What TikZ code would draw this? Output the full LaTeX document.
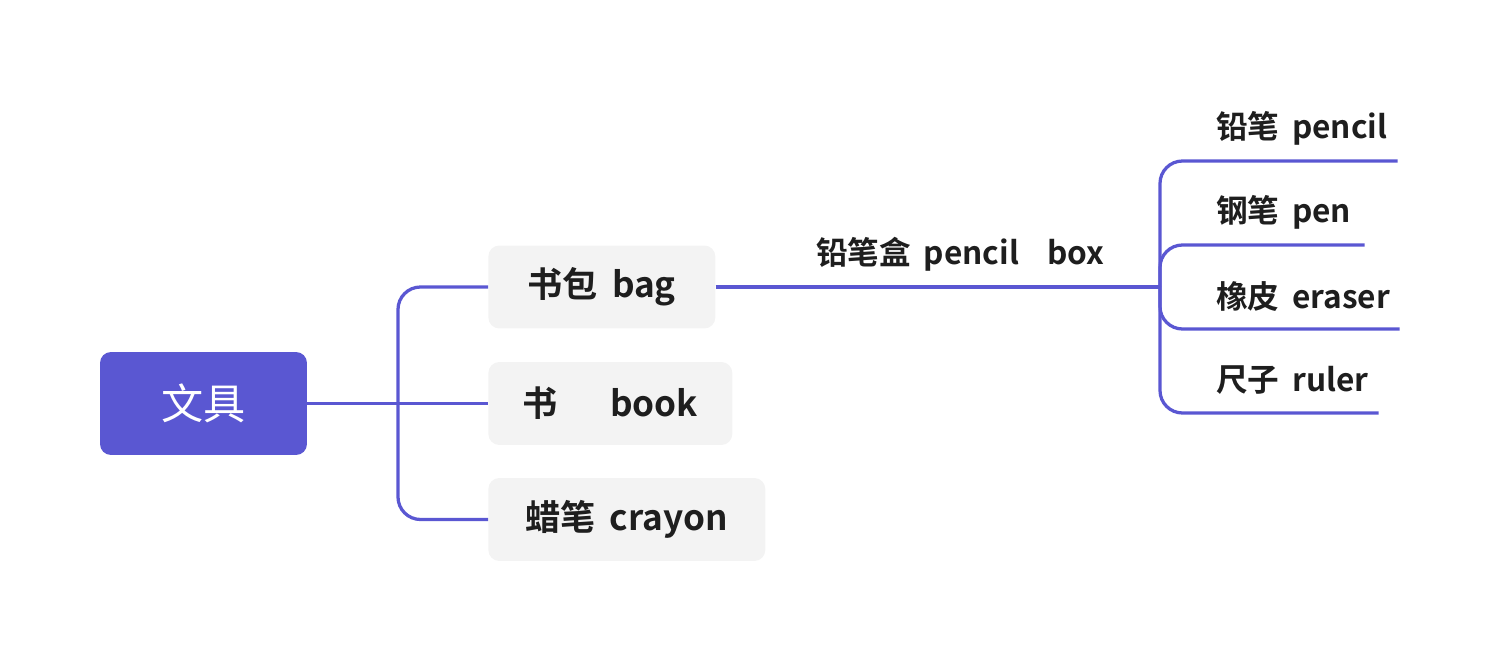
\documentclass[tikz,border=0pt]{standalone}
\usepackage{fontspec}
\usepackage{xcolor}
\newfontfamily\cjk{Noto Sans CJK SC}[BoldFont={Noto Sans CJK SC Bold}]
\usetikzlibrary{positioning}
\definecolor{mapblue}{RGB}{90,87,210}
\definecolor{topicgray}{RGB}{243,243,243}
\definecolor{inkgray}{RGB}{30,30,30}

\begin{document}
\begin{tikzpicture}[x=0.02cm, y=-0.02cm,
	root/.style={fill=mapblue, text=white, rounded corners=0.22cm, minimum width=4.14cm, minimum height=2.06cm, inner sep=0pt, font=\cjk\fontsize{24}{29}\selectfont},
	topic/.style={fill=topicgray, text=inkgray, rounded corners=0.22cm, minimum height=1.66cm, inner sep=0pt, anchor=west, font=\cjk\bfseries\fontsize{20}{24}\selectfont},
	leaf/.style={text=inkgray, anchor=south west, inner xsep=0.18cm, inner ysep=0pt, minimum height=1.3cm, align=left, font=\cjk\bfseries\fontsize{18}{22}\selectfont},
	branch/.style={draw=mapblue, line width=0.065cm, rounded corners=0.45cm}]
	\useasboundingbox (0, 0) rectangle (1499, 662);
	\node[root] (stationery) at (203.5, 403.5) {文具};
	\node[topic, minimum width=4.54cm] (bag) at (488, 287) {书包\hspace{0.4em}bag};
	\node[topic, minimum width=4.88cm] (book) at (488, 403.5) {书\hspace{1.5em}book};
	\node[topic, minimum width=5.54cm] (crayon) at (488, 519.5) {蜡笔\hspace{0.4em}crayon};
	\coordinate (jL) at (398, 403.5);
	\draw[branch] (stationery.east) -- (book.west);
	\draw[branch] (jL) |- (bag.west);
	\draw[branch] (jL) |- (crayon.west);
	% pencil box sits on the line
	\node[leaf, anchor=south, minimum width=6.18cm, minimum height=1.28cm, align=center] (pbox) at (960.5, 287) {铅笔盒\hspace{0.4em}pencil\hspace{0.9em}box};
	\coordinate (jR) at (1160, 287);
	\draw[branch] (bag.east) -- (pbox.south west) -- (pbox.south east) -- (jR);
	\node[leaf, text width=3.44cm] (pencil) at (1207, 161) {铅笔\hspace{0.4em}pencil};
	\node[leaf, text width=2.78cm] (pen) at (1207, 245) {钢笔\hspace{0.4em}pen};
	\node[leaf, text width=3.48cm] (eraser) at (1207, 329) {橡皮\hspace{0.4em}eraser};
	\node[leaf, text width=3.06cm] (ruler) at (1207, 413) {尺子\hspace{0.4em}ruler};
	\foreach \leafname in {pencil, pen, eraser, ruler} {
		\draw[branch] (jR) |- (\leafname.south west) -- (\leafname.south east);
	}
\end{tikzpicture}
\end{document}
